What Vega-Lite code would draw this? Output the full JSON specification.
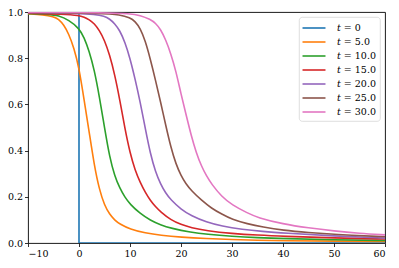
{
  "$schema": "https://vega.github.io/schema/vega-lite/v6.json",
  "width": 357,
  "height": 231,
  "autosize": {"type": "none"},
  "padding": {"left": 28, "top": 12, "right": 14, "bottom": 25},
  "background": "white",
  "config": {
    "view": {"stroke": "black", "strokeWidth": 0.9},
    "axis": {
      "grid": false,
      "domain": false,
      "ticks": true,
      "tickSize": 3.5,
      "tickWidth": 0.8,
      "tickColor": "black",
      "labelFont": "DejaVu Serif",
      "labelFontSize": 9.5,
      "labelColor": "black",
      "labelPadding": 2,
      "title": null
    },
    "legend": {
      "orient": "top-right",
      "offset": 5,
      "fillColor": "white",
      "strokeColor": "#d6d6d6",
      "strokeWidth": 0.8,
      "cornerRadius": 3,
      "padding": 4,
      "labelFont": "DejaVu Serif",
      "labelFontSize": 9.5,
      "labelColor": "black",
      "symbolType": "M-2,0H2",
      "symbolSize": 132,
      "symbolStrokeWidth": 1.6,
      "rowPadding": 2,
      "labelOffset": 16,
      "symbolOffset": 4
    }
  },
  "data": {
    "values": [
      {"s": "𝑡 = 0", "x": -10, "y": 1, "k": 0},
      {"s": "𝑡 = 0", "x": 0, "y": 1, "k": 1},
      {"s": "𝑡 = 0", "x": 0, "y": 0, "k": 2},
      {"s": "𝑡 = 0", "x": 60, "y": 0, "k": 3},

      {"s": "𝑡 = 5.0", "x": -10, "y": 0.992},
      {"s": "𝑡 = 5.0", "x": -7, "y": 0.988},
      {"s": "𝑡 = 5.0", "x": -5, "y": 0.98},
      {"s": "𝑡 = 5.0", "x": -4, "y": 0.97},
      {"s": "𝑡 = 5.0", "x": -3, "y": 0.945},
      {"s": "𝑡 = 5.0", "x": -2, "y": 0.905},
      {"s": "𝑡 = 5.0", "x": -1, "y": 0.845},
      {"s": "𝑡 = 5.0", "x": 0, "y": 0.76},
      {"s": "𝑡 = 5.0", "x": 1, "y": 0.62},
      {"s": "𝑡 = 5.0", "x": 2, "y": 0.48},
      {"s": "𝑡 = 5.0", "x": 3, "y": 0.335},
      {"s": "𝑡 = 5.0", "x": 4, "y": 0.23},
      {"s": "𝑡 = 5.0", "x": 5, "y": 0.163},
      {"s": "𝑡 = 5.0", "x": 6, "y": 0.124},
      {"s": "𝑡 = 5.0", "x": 7, "y": 0.099},
      {"s": "𝑡 = 5.0", "x": 8, "y": 0.082},
      {"s": "𝑡 = 5.0", "x": 10, "y": 0.06},
      {"s": "𝑡 = 5.0", "x": 13, "y": 0.043},
      {"s": "𝑡 = 5.0", "x": 16, "y": 0.033},
      {"s": "𝑡 = 5.0", "x": 20, "y": 0.025},
      {"s": "𝑡 = 5.0", "x": 25, "y": 0.019},
      {"s": "𝑡 = 5.0", "x": 30, "y": 0.015},
      {"s": "𝑡 = 5.0", "x": 35, "y": 0.012},
      {"s": "𝑡 = 5.0", "x": 40, "y": 0.01},
      {"s": "𝑡 = 5.0", "x": 50, "y": 0.008},
      {"s": "𝑡 = 5.0", "x": 60, "y": 0.007},

      {"s": "𝑡 = 10.0", "x": -10, "y": 0.993},
      {"s": "𝑡 = 10.0", "x": -6, "y": 0.99},
      {"s": "𝑡 = 10.0", "x": -4, "y": 0.985},
      {"s": "𝑡 = 10.0", "x": -2, "y": 0.965},
      {"s": "𝑡 = 10.0", "x": 0, "y": 0.93},
      {"s": "𝑡 = 10.0", "x": 1, "y": 0.89},
      {"s": "𝑡 = 10.0", "x": 2, "y": 0.83},
      {"s": "𝑡 = 10.0", "x": 3, "y": 0.75},
      {"s": "𝑡 = 10.0", "x": 4, "y": 0.633},
      {"s": "𝑡 = 10.0", "x": 5, "y": 0.5},
      {"s": "𝑡 = 10.0", "x": 6, "y": 0.372},
      {"s": "𝑡 = 10.0", "x": 7, "y": 0.29},
      {"s": "𝑡 = 10.0", "x": 8, "y": 0.237},
      {"s": "𝑡 = 10.0", "x": 9, "y": 0.198},
      {"s": "𝑡 = 10.0", "x": 10, "y": 0.168},
      {"s": "𝑡 = 10.0", "x": 12, "y": 0.127},
      {"s": "𝑡 = 10.0", "x": 14, "y": 0.098},
      {"s": "𝑡 = 10.0", "x": 16, "y": 0.078},
      {"s": "𝑡 = 10.0", "x": 18, "y": 0.064},
      {"s": "𝑡 = 10.0", "x": 22, "y": 0.046},
      {"s": "𝑡 = 10.0", "x": 25, "y": 0.038},
      {"s": "𝑡 = 10.0", "x": 30, "y": 0.029},
      {"s": "𝑡 = 10.0", "x": 35, "y": 0.023},
      {"s": "𝑡 = 10.0", "x": 40, "y": 0.019},
      {"s": "𝑡 = 10.0", "x": 50, "y": 0.014},
      {"s": "𝑡 = 10.0", "x": 60, "y": 0.011},

      {"s": "𝑡 = 15.0", "x": -10, "y": 0.995},
      {"s": "𝑡 = 15.0", "x": -3, "y": 0.99},
      {"s": "𝑡 = 15.0", "x": 0, "y": 0.985},
      {"s": "𝑡 = 15.0", "x": 1, "y": 0.978},
      {"s": "𝑡 = 15.0", "x": 2, "y": 0.967},
      {"s": "𝑡 = 15.0", "x": 3, "y": 0.95},
      {"s": "𝑡 = 15.0", "x": 4, "y": 0.92},
      {"s": "𝑡 = 15.0", "x": 5, "y": 0.878},
      {"s": "𝑡 = 15.0", "x": 6, "y": 0.815},
      {"s": "𝑡 = 15.0", "x": 7, "y": 0.73},
      {"s": "𝑡 = 15.0", "x": 8, "y": 0.62},
      {"s": "𝑡 = 15.0", "x": 9, "y": 0.495},
      {"s": "𝑡 = 15.0", "x": 10, "y": 0.39},
      {"s": "𝑡 = 15.0", "x": 11, "y": 0.315},
      {"s": "𝑡 = 15.0", "x": 12, "y": 0.262},
      {"s": "𝑡 = 15.0", "x": 13, "y": 0.219},
      {"s": "𝑡 = 15.0", "x": 14, "y": 0.184},
      {"s": "𝑡 = 15.0", "x": 15, "y": 0.157},
      {"s": "𝑡 = 15.0", "x": 16, "y": 0.135},
      {"s": "𝑡 = 15.0", "x": 18, "y": 0.1},
      {"s": "𝑡 = 15.0", "x": 20, "y": 0.08},
      {"s": "𝑡 = 15.0", "x": 22, "y": 0.066},
      {"s": "𝑡 = 15.0", "x": 25, "y": 0.053},
      {"s": "𝑡 = 15.0", "x": 30, "y": 0.041},
      {"s": "𝑡 = 15.0", "x": 35, "y": 0.034},
      {"s": "𝑡 = 15.0", "x": 40, "y": 0.029},
      {"s": "𝑡 = 15.0", "x": 50, "y": 0.022},
      {"s": "𝑡 = 15.0", "x": 60, "y": 0.017},

      {"s": "𝑡 = 20.0", "x": -10, "y": 0.997},
      {"s": "𝑡 = 20.0", "x": 0, "y": 0.994},
      {"s": "𝑡 = 20.0", "x": 3, "y": 0.99},
      {"s": "𝑡 = 20.0", "x": 5, "y": 0.982},
      {"s": "𝑡 = 20.0", "x": 6, "y": 0.97},
      {"s": "𝑡 = 20.0", "x": 7, "y": 0.95},
      {"s": "𝑡 = 20.0", "x": 8, "y": 0.92},
      {"s": "𝑡 = 20.0", "x": 9, "y": 0.87},
      {"s": "𝑡 = 20.0", "x": 10, "y": 0.8},
      {"s": "𝑡 = 20.0", "x": 11, "y": 0.71},
      {"s": "𝑡 = 20.0", "x": 12, "y": 0.61},
      {"s": "𝑡 = 20.0", "x": 13, "y": 0.495},
      {"s": "𝑡 = 20.0", "x": 14, "y": 0.385},
      {"s": "𝑡 = 20.0", "x": 15, "y": 0.308},
      {"s": "𝑡 = 20.0", "x": 16, "y": 0.255},
      {"s": "𝑡 = 20.0", "x": 17, "y": 0.216},
      {"s": "𝑡 = 20.0", "x": 18, "y": 0.187},
      {"s": "𝑡 = 20.0", "x": 20, "y": 0.146},
      {"s": "𝑡 = 20.0", "x": 22, "y": 0.118},
      {"s": "𝑡 = 20.0", "x": 25, "y": 0.09},
      {"s": "𝑡 = 20.0", "x": 28, "y": 0.073},
      {"s": "𝑡 = 20.0", "x": 32, "y": 0.059},
      {"s": "𝑡 = 20.0", "x": 36, "y": 0.05},
      {"s": "𝑡 = 20.0", "x": 40, "y": 0.043},
      {"s": "𝑡 = 20.0", "x": 50, "y": 0.03},
      {"s": "𝑡 = 20.0", "x": 60, "y": 0.021},

      {"s": "𝑡 = 25.0", "x": -10, "y": 0.998},
      {"s": "𝑡 = 25.0", "x": 5, "y": 0.994},
      {"s": "𝑡 = 25.0", "x": 8, "y": 0.988},
      {"s": "𝑡 = 25.0", "x": 10, "y": 0.975},
      {"s": "𝑡 = 25.0", "x": 11, "y": 0.96},
      {"s": "𝑡 = 25.0", "x": 12, "y": 0.93},
      {"s": "𝑡 = 25.0", "x": 13, "y": 0.875},
      {"s": "𝑡 = 25.0", "x": 14, "y": 0.795},
      {"s": "𝑡 = 25.0", "x": 15, "y": 0.705},
      {"s": "𝑡 = 25.0", "x": 16, "y": 0.61},
      {"s": "𝑡 = 25.0", "x": 17, "y": 0.51},
      {"s": "𝑡 = 25.0", "x": 18, "y": 0.415},
      {"s": "𝑡 = 25.0", "x": 19, "y": 0.342},
      {"s": "𝑡 = 25.0", "x": 20, "y": 0.292},
      {"s": "𝑡 = 25.0", "x": 21, "y": 0.255},
      {"s": "𝑡 = 25.0", "x": 22, "y": 0.228},
      {"s": "𝑡 = 25.0", "x": 24, "y": 0.185},
      {"s": "𝑡 = 25.0", "x": 26, "y": 0.15},
      {"s": "𝑡 = 25.0", "x": 28, "y": 0.125},
      {"s": "𝑡 = 25.0", "x": 30, "y": 0.102},
      {"s": "𝑡 = 25.0", "x": 33, "y": 0.083},
      {"s": "𝑡 = 25.0", "x": 36, "y": 0.069},
      {"s": "𝑡 = 25.0", "x": 40, "y": 0.055},
      {"s": "𝑡 = 25.0", "x": 45, "y": 0.045},
      {"s": "𝑡 = 25.0", "x": 50, "y": 0.037},
      {"s": "𝑡 = 25.0", "x": 60, "y": 0.027},

      {"s": "𝑡 = 30.0", "x": -10, "y": 0.999},
      {"s": "𝑡 = 30.0", "x": 5, "y": 0.997},
      {"s": "𝑡 = 30.0", "x": 10, "y": 0.993},
      {"s": "𝑡 = 30.0", "x": 12, "y": 0.986},
      {"s": "𝑡 = 30.0", "x": 14, "y": 0.968},
      {"s": "𝑡 = 30.0", "x": 15, "y": 0.952},
      {"s": "𝑡 = 30.0", "x": 16, "y": 0.925},
      {"s": "𝑡 = 30.0", "x": 17, "y": 0.88},
      {"s": "𝑡 = 30.0", "x": 18, "y": 0.82},
      {"s": "𝑡 = 30.0", "x": 19, "y": 0.745},
      {"s": "𝑡 = 30.0", "x": 20, "y": 0.645},
      {"s": "𝑡 = 30.0", "x": 21, "y": 0.555},
      {"s": "𝑡 = 30.0", "x": 22, "y": 0.465},
      {"s": "𝑡 = 30.0", "x": 23, "y": 0.39},
      {"s": "𝑡 = 30.0", "x": 24, "y": 0.333},
      {"s": "𝑡 = 30.0", "x": 25, "y": 0.29},
      {"s": "𝑡 = 30.0", "x": 26, "y": 0.255},
      {"s": "𝑡 = 30.0", "x": 28, "y": 0.2},
      {"s": "𝑡 = 30.0", "x": 30, "y": 0.165},
      {"s": "𝑡 = 30.0", "x": 33, "y": 0.13},
      {"s": "𝑡 = 30.0", "x": 35, "y": 0.11},
      {"s": "𝑡 = 30.0", "x": 40, "y": 0.082},
      {"s": "𝑡 = 30.0", "x": 45, "y": 0.065},
      {"s": "𝑡 = 30.0", "x": 50, "y": 0.052},
      {"s": "𝑡 = 30.0", "x": 55, "y": 0.042},
      {"s": "𝑡 = 30.0", "x": 60, "y": 0.035}
    ]
  },
  "encoding": {
    "x": {
      "field": "x",
      "type": "quantitative",
      "scale": {"domain": [-10, 60], "nice": false, "zero": false},
      "axis": {"values": [-10, 0, 10, 20, 30, 40, 50, 60], "format": "d"}
    },
    "y": {
      "field": "y",
      "type": "quantitative",
      "scale": {"domain": [0, 1], "nice": false},
      "axis": {"values": [0, 0.2, 0.4, 0.6, 0.8, 1.0], "format": ".1f"}
    },
    "color": {
      "field": "s",
      "type": "nominal",
      "title": null,
      "scale": {
        "domain": ["𝑡 = 0", "𝑡 = 5.0", "𝑡 = 10.0", "𝑡 = 15.0", "𝑡 = 20.0", "𝑡 = 25.0", "𝑡 = 30.0"],
        "range": ["#1f77b4", "#ff7f0e", "#2ca02c", "#d62728", "#9467bd", "#8c564b", "#e377c2"]
      }
    }
  },
  "layer": [
    {
      "transform": [{"filter": "datum.s === '𝑡 = 0'"}],
      "mark": {"type": "line", "strokeWidth": 1.6, "clip": true},
      "encoding": {"order": {"field": "k", "type": "quantitative"}}
    },
    {
      "transform": [{"filter": "datum.s !== '𝑡 = 0'"}],
      "mark": {"type": "line", "strokeWidth": 1.6, "clip": true, "interpolate": "basis"}
    }
  ]
}
